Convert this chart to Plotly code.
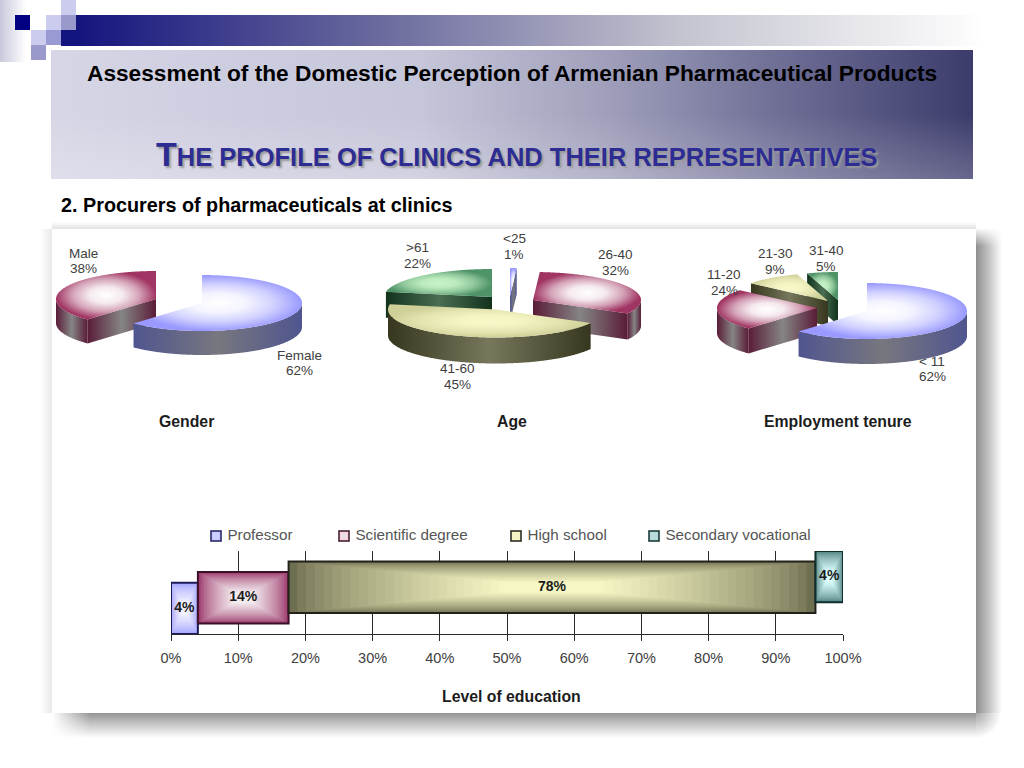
import numpy as np
import plotly.graph_objects as go

# chart data
gender_labels = ["Female", "Male"]
gender_values = [62, 38]
age_labels = ["<25", "26-40", "41-60", ">61"]
age_values = [1, 32, 45, 22]
tenure_labels = ["< 11", "11-20", "21-30", "31-40"]
tenure_values = [62, 24, 9, 5]
edu_names = ["Professor", "Scientific degree", "High school", "Secondary vocational"]
edu_values = [4.0, 13.5, 78.4, 4.1]
edu_text = ["4%", "14%", "78%", "4%"]

FONT = "Liberation Sans"
BLUE = dict(edge="#9999ff", mid="#ffffff", side="#50558f", sidemid="#77777f")
MAROON = dict(edge="#a03462", mid="#ffffff", side="#5a1c38", sidemid="#858585")
YELLOW = dict(edge="#cfcf98", mid="#f8f8c8", side="#37371f", sidemid="#77775c")
GREEN = dict(edge="#4f9468", mid="#c8f4c8", side="#12321c", sidemid="#4a6e52")

fig = go.Figure()


def page_fill(xs, ys, gradient=None, color=None):
    # filled polygon on the full page axes, coordinates in pixels
    t = dict(x=xs, y=ys, mode="none", fill="toself", hoverinfo="skip", showlegend=False)
    if gradient:
        t["fillgradient"] = gradient
    else:
        t["fillcolor"] = color
    fig.add_trace(go.Scatter(**t))


def rect(x0, y0, x1, y1, gradient=None, color=None):
    page_fill([x0, x1, x1, x0, x0], [y0, y0, y1, y1, y0], gradient, color)


def grad(kind, *stops):
    n = len(stops) - 1
    return dict(type=kind, colorscale=[[i / n, c] for i, c in enumerate(stops)])


def arc(cx, cy, a, b, t1, t2):
    t = np.radians(np.linspace(t1, t2, max(int(abs(t2 - t1)) * 2, 2)))
    return cx + a * np.sin(t), cy - b * np.cos(t)


def mix(c1, c2, t):
    a = [int(c1[i:i + 2], 16) for i in (1, 3, 5)]
    b = [int(c2[i:i + 2], 16) for i in (1, 3, 5)]
    return "rgb(%d,%d,%d)" % tuple(a[i] + (b[i] - a[i]) * t for i in range(3))


def draw_wedge(cx, cy, a, b, depth, t1, t2, c):
    side = grad("horizontal", c["side"], c["sidemid"], c["side"])
    # radial faces that look towards the viewer
    for ang, visible in ((t1, np.sin(np.radians(t1)) < -1e-6), (t2, np.sin(np.radians(t2)) > 1e-6)):
        if visible:
            px, py = arc(cx, cy, a, b, ang, ang)
            px, py = px[0], py[0]
            page_fill([cx, px, px, cx, cx], [cy, py, py + depth, cy + depth, cy], side)
    # outer rim, front half only
    r1, r2 = max(t1, 90), min(t2, 270)
    if r2 > r1:
        xs, ys = arc(cx, cy, a, b, r1, r2)
        page_fill(np.r_[xs, xs[::-1], xs[0]], np.r_[ys, ys[::-1] + depth, ys[0]], side)
    # top
    xs, ys = arc(cx, cy, a, b, t1, t2)
    top = grad("radial", c["mid"], mix(c["mid"], c["edge"], 0.1), mix(c["mid"], c["edge"], 0.45), c["edge"])
    page_fill(np.r_[cx, xs, cx], np.r_[cy, ys, cy], top)


def draw_pie(values, labels, colors, centres, order, a, b, depth, label_xy):
    ends = np.cumsum(values) / sum(values) * 360
    starts = np.r_[0, ends[:-1]]
    for i in order:
        draw_wedge(centres[i][0], centres[i][1], a, b, depth, starts[i], ends[i], colors[i])
    for i, (x, y) in enumerate(label_xy):
        # two annotations, the default line height is too loose here
        for text, dy in ((labels[i], -7.7), (f"{values[i]}%", 7.7)):
            fig.add_annotation(x=x, y=y + dy, xref="x", yref="y", showarrow=False, text=text,
                               font=dict(family=FONT, size=13.5, color="#404040"))


# slide decoration
rect(0, 0, 26, 62, grad("horizontal", "#c8c8dc", "#ffffff"))
rect(76, 15, 985, 46, grad("horizontal", "#14147e", "#6a6a9e", "#c4c4d0", "#ffffff"))
rect(61, 30, 80, 46, color="#14147e")
for x0, y0, col in [(15, 15, "#000080"), (46, 15, "#ccccee"), (61, 15, "#9999cc"), (61, 0, "#ccccee"),
                    (31, 30, "#ccccee"), (46, 30, "#9999d4"), (31, 45, "#9999cc")]:
    rect(x0, y0, x0 + 15, y0 + 15, color=col)
rect(51, 50, 973, 179, grad("horizontal", "#d6d6e6", "#cdcde0", "#c6c6da", "#a0a0bc", "#6c6c94", "#3c3c6c"))
# note: vertical gradients run bottom to top on this reversed axis
rect(51, 50, 973, 179, grad("vertical", "rgba(255,255,255,0.22)", "rgba(255,255,255,0)", "rgba(255,255,255,0)"))

# panel with soft shadow
rect(976, 228, 1002, 713, grad("horizontal", "#8e8e8e", "#c4c4c4", "#ffffff"))
rect(52, 713, 976, 738, grad("vertical", "#ffffff", "#cccccc", "#949494"))
for r in range(26, 0, -2):
    xs, ys = arc(976, 713, r, r, 90, 180)
    page_fill(np.r_[976, xs, 976], np.r_[713, ys, 713], color=mix("#ffffff", "#a4a4a4", 1 - r / 26))
rect(52, 713, 90, 738, grad("horizontal", "#ffffff", "rgba(255,255,255,0)"))
rect(976, 228, 1002, 246, grad("vertical", "rgba(255,255,255,0)", "#ffffff"))
rect(52, 222, 976, 229, grad("vertical", "#e2e2e2", "#ffffff"))
rect(40, 229, 52, 713, grad("horizontal", "#ffffff", "#e8e8e8"))
rect(52, 229, 976, 713, color="#ffffff")

draw_pie(gender_values, gender_labels, [BLUE, MAROON], [(202, 303), (156, 299)], [1, 0],
         100, 28, 24, [(299.5, 363), (83, 261)])
draw_pie(age_values, age_labels, [BLUE, MAROON, YELLOW, GREEN],
         [(510, 296), (533, 300), (496, 309.5), (492, 297)], [3, 0, 1, 2],
         108, 28, 26, [(514, 246.5), (615, 262.5), (457.5, 376.5), (417, 255.5)])
draw_pie(tenure_values, tenure_labels, [BLUE, MAROON, YELLOW, GREEN],
         [(867, 311), (817, 308), (828, 301), (838, 300)], [3, 2, 1, 0],
         100, 28, 25, [(932, 369), (724, 282.5), (775, 261.5), (826, 258.5)])

for text, x in (("Gender", 186), ("Age", 512), ("Employment tenure", 838)):
    fig.add_annotation(x=x, y=421, xref="x", yref="y", showarrow=False, text=f"<b>{text}</b>",
                       font=dict(family=FONT, size=15.8, color="#1c1c1c"))

# slide titles
fig.add_annotation(x=512, y=73, xref="x", yref="y", showarrow=False,
                   text="<b>Assessment of the Domestic Perception of Armenian Pharmaceutical Products</b>",
                   font=dict(family=FONT, size=22.7, color="#000000"))
fig.add_annotation(x=517, y=154, xref="x", yref="y", showarrow=False,
                   text="<b><span style='font-size:34px'>T</span>HE PROFILE OF CLINICS AND THEIR REPRESENTATIVES</b>",
                   font=dict(family=FONT, size=25.5, color="#2c2c92", shadow="2px 2px 2px #9a9a9a"))
fig.add_annotation(x=59, y=205, xref="x", yref="y", showarrow=False, xanchor="left",
                   text="<b>2. Procurers of pharmaceuticals at clinics</b>",
                   font=dict(family=FONT, size=19.8, color="#000000"))
fig.add_annotation(x=511.5, y=696, xref="x", yref="y", showarrow=False, text="<b>Level of education</b>",
                   font=dict(family=FONT, size=15.8, color="#1c1c1c"))

# legend row, drawn as markers so the swatches sit tight against the names
edu_colors = [("#1c1c5c", "#a0a0ff", "#f4f4ff", "#ccccff"),
              ("#3c1028", "#993366", "#f4ecf0", "#f0d8e4"),
              ("#22221a", "#6e6e50", "#f6f6c4", "#f4f4c4"),
              ("#10302c", "#4c7c7c", "#dcffff", "#b8dcdc")]
for i, x in enumerate((216, 344, 516, 654)):
    fig.add_trace(go.Scatter(x=[x], y=[536], name=edu_names[i], mode="markers+text",
                             text=["\u00a0" + edu_names[i]],
                             textposition="middle right", hoverinfo="skip", showlegend=False, cliponaxis=False,
                             marker=dict(symbol="square", size=10, color=edu_colors[i][3],
                                         line=dict(color=edu_colors[i][0], width=1.5)),
                             textfont=dict(family=FONT, size=15.2, color="#555555")))

# level of education bar, each segment stepped up by one unit
BAR_W = 4.86
LAYERS = 30
left = 0
for i, (name, val, text) in enumerate(zip(edu_names, edu_values, edu_text)):
    line, edge, mid, swatch = edu_colors[i]
    for k in range(LAYERS):
        t = k / LAYERS
        fig.add_trace(go.Bar(y=[i], x=[val * (1 - t)], base=[left + val * t / 2], width=[BAR_W * (1 - t)],
                             orientation="h", xaxis="x2", yaxis="y2", showlegend=False, hoverinfo="skip",
                             marker=dict(color=mix(edge, mid, min(1, t / 0.8) ** 0.7), line=dict(width=0))))
    fig.add_trace(go.Bar(y=[i], x=[val], base=[left], width=[BAR_W], orientation="h", xaxis="x2", yaxis="y2",
                         showlegend=False, hoverinfo="skip",
                         marker=dict(color="rgba(0,0,0,0)", line=dict(color=line, width=2))))
    fig.add_trace(go.Scatter(x=[left + val / 2], y=[i], text=[f"<b>{text}</b>"], mode="text", xaxis="x2", yaxis="y2",
                             showlegend=False, hoverinfo="skip",
                             textfont=dict(family=FONT, size=14, color="#1c1c1c")))
    left += val

fig.add_shape(type="rect", xref="x2 domain", yref="y2 domain", x0=0, x1=1, y0=0, y1=1,
              line=dict(color="#9a9a9a", width=1), layer="below")

fig.update_layout(
    width=1024, height=768, margin=dict(l=0, r=0, t=0, b=0, autoexpand=False),
    paper_bgcolor="#ffffff", plot_bgcolor="rgba(0,0,0,0)", barmode="overlay", showlegend=False,
    xaxis=dict(domain=[0, 1], range=[0, 1024], visible=False, fixedrange=True),
    yaxis=dict(domain=[0, 1], range=[768, 0], visible=False, fixedrange=True),
    xaxis2=dict(domain=[171 / 1024, 843 / 1024], range=[0, 100], anchor="y2", dtick=10, ticksuffix="%",
                showgrid=True, gridcolor="#2a2a2a", gridwidth=1, showline=True, linecolor="#2a2a2a", linewidth=1,
                ticks="outside", ticklen=6, tickcolor="#2a2a2a", zeroline=False, layer="below traces",
                ticklabelstandoff=5, tickfont=dict(family=FONT, size=14.5, color="#404040")),
    yaxis2=dict(domain=[1 - 634 / 768, 1 - 551 / 768], range=[-BAR_W / 2, 3 + BAR_W / 2], anchor="x2",
                visible=False),
)

fig.write_html("out.html", config=dict(displayModeBar=False),
               post_script="document.body.style.margin='0';document.body.style.overflow='hidden';")
